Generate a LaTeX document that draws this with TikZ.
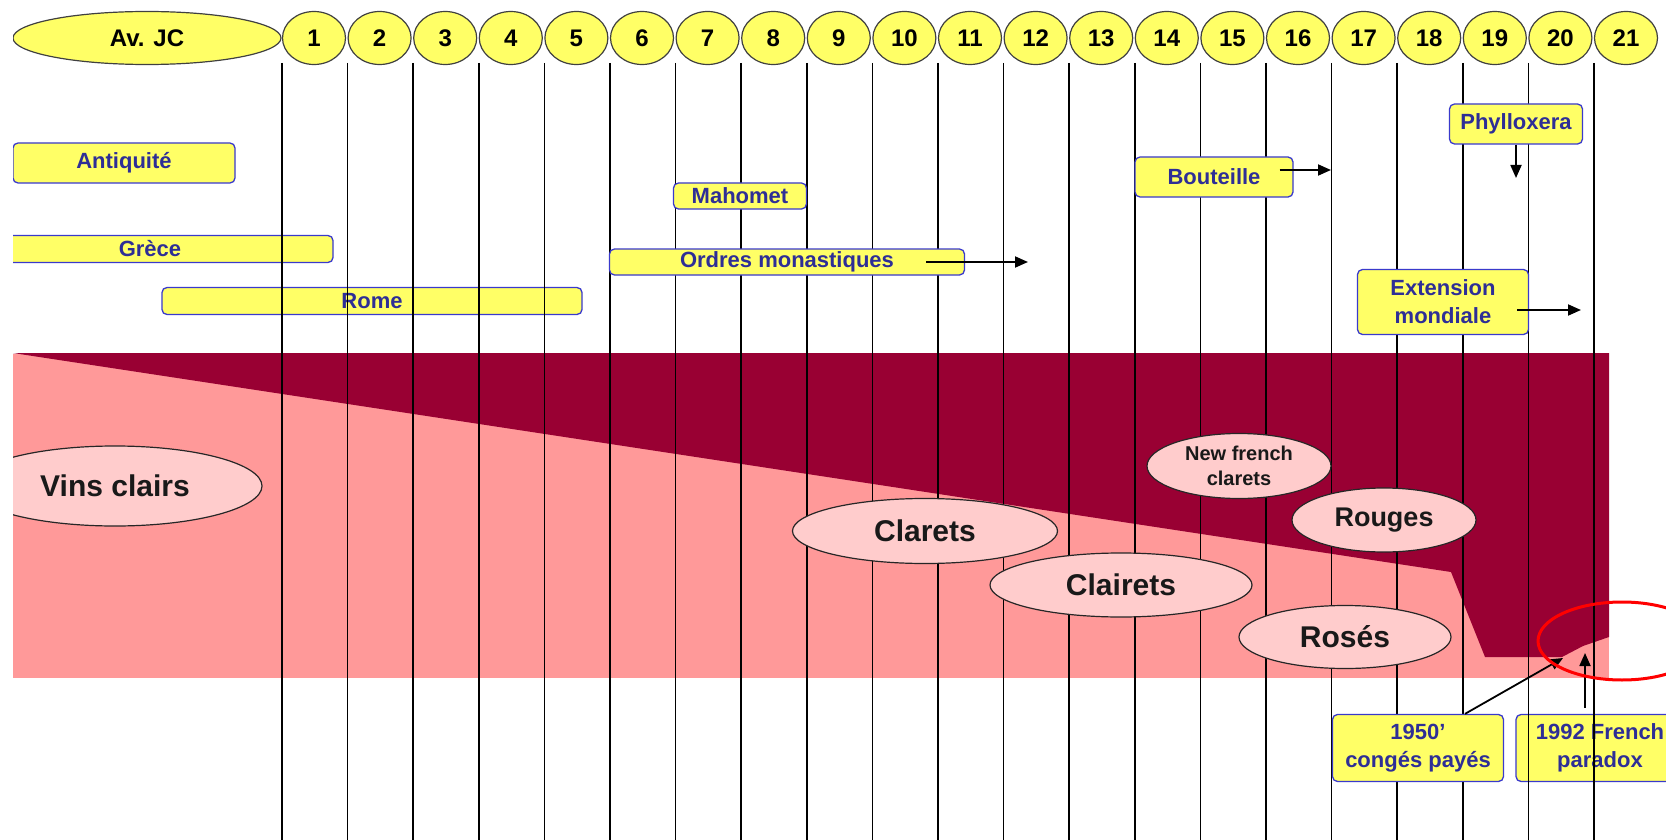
\documentclass[tikz,border=0pt]{standalone}
\usepackage{fontspec}
\setmainfont{Liberation Sans}
\usetikzlibrary{arrows.meta,calc,shapes.geometric}

\definecolor{jaune}{HTML}{FFFF66}
\definecolor{bleutexte}{HTML}{2E2E96}
\definecolor{bleubord}{HTML}{3A3ACC}
\definecolor{rose}{HTML}{FF9999}
\definecolor{bordeaux}{HTML}{990033}
\definecolor{roseclair}{HTML}{FFCCCC}

\begin{document}
\begin{tikzpicture}[
        x=1pt, y=-1pt,
        siecle/.style={ellipse, draw=black!75, fill=jaune, line width=1.2pt,
            inner sep=0pt, minimum width=63pt, minimum height=53pt,
            font=\fontsize{24}{24}\selectfont\bfseries},
        evenement/.style={rectangle, rounded corners=5pt, draw=bleubord,
            fill=jaune, line width=1.3pt, inner sep=0pt, text=bleutexte,
            align=center, font=\fontsize{22}{28}\selectfont\bfseries},
        vin/.style={ellipse, draw=black!85, fill=roseclair, line width=1.2pt,
            inner sep=0pt, text=black!90, align=center,
            font=\fontsize{30}{30}\selectfont\bfseries},
        trait/.style={black, line width=1.5pt},
        fleche/.style={-{Triangle[length=13pt,width=11pt]}, line width=1.8pt},
    ]
    \fill[white] (0,0) rectangle (1666,840);
    \begin{scope}
    \clip (13,0) rectangle (1666,840);

    % fond : vins clairs / vins rouges
    \fill[rose] (13,354) rectangle (1609,678);
    \fill[bordeaux] (13,353) -- (1609,353) -- (1609,637) -- (1583,646)
        -- (1562,657) -- (1485,657) -- (1451,572) -- cycle;

    % periodes sous les traits
    \node[evenement, minimum width=366pt, minimum height=27pt] (grece)
        at (150,249) {Grèce};
    \node[evenement, minimum width=420pt, minimum height=27pt] (rome)
        at (372,301) {Rome};
    \node[evenement, minimum width=168pt, minimum height=67pt] (paradoxe)
        at (1600,748) {1992 French\\paradox};

    % traits des siecles
    \foreach \l in {1,...,21} {
        \coordinate (h\l) at ({282+(\l-1)*65.6},63);
        \coordinate (b\l) at ({282+(\l-1)*65.6},840);
        \draw[trait] (h\l) -- (b\l);
    }

    % siecles
    \node[siecle, minimum width=268pt] (avjc) at (147,38) {Av. JC};
    \foreach \s in {1,...,21}
        \node[siecle] (s\s) at ({314+(\s-1)*65.6},38) {\s};

    % evenements
    \node[evenement, minimum width=222pt, minimum height=40pt] (antiquite)
        at (124,163) {Antiquité};
    \node[evenement, minimum width=133pt, minimum height=26pt] (mahomet)
        at (740,196) {Mahomet};
    \node[evenement, minimum width=355pt, minimum height=26pt] (ordres)
        at (787,262) {Ordres monastiques};
    \node[evenement, minimum width=158pt, minimum height=40pt] (bouteille)
        at (1214,177) {Bouteille};
    \node[evenement, minimum width=133pt, minimum height=40pt] (phylloxera)
        at (1516,124) {Phylloxera};
    \node[evenement, minimum width=171pt, minimum height=65pt] (extension)
        at (1443,302) {Extension\\mondiale};
    \node[evenement, minimum width=171pt, minimum height=67pt] (conges)
        at (1418,748) {1950'\\congés payés};

    % vins
    \begin{scope}
        \clip (13,354) rectangle (1609,678);
        \node[vin, minimum width=294pt, minimum height=80pt] (vinsclairs)
            at (115,486) {Vins clairs};
    \end{scope}
    \node[vin, minimum width=265pt, minimum height=65pt] (clarets)
        at (925,531) {Clarets};
    \node[vin, minimum width=262pt, minimum height=64pt] (clairets)
        at (1121,585) {Clairets};
    \node[vin, minimum width=184pt, minimum height=65pt,
        font=\fontsize{20}{25}\selectfont\bfseries] (newfrench)
        at (1239,466) {New french\\clarets};
    \node[vin, minimum width=184pt, minimum height=64pt,
        font=\fontsize{27}{27}\selectfont\bfseries] (rouges)
        at (1384,520) {Rouges};
    \node[vin, minimum width=212pt, minimum height=63pt] (roses)
        at (1345,637) {Rosés};

    % fleches
    \coordinate (ordres-fin) at (1028,262);
    \coordinate (bouteille-fin) at (1331,170);
    \coordinate (phyllo-fin) at (1516,178);
    \coordinate (extension-fin) at (1581,310);
    \coordinate (creux) at (1563,658);
    \coordinate (pointe) at (1585,653);
    \draw[fleche] ([xshift=-39pt]ordres.east) -- (ordres-fin);
    \draw[fleche] ([xshift=-14pt,yshift=7pt]bouteille.east) -- (bouteille-fin);
    \draw[fleche] (phylloxera.south) -- (phyllo-fin);
    \draw[fleche] ([xshift=-12pt,yshift=-8pt]extension.east) -- (extension-fin);
    \draw[fleche] ([xshift=47pt]conges.north) -- (creux);
    \draw[fleche] ($(paradoxe.north -| pointe)+(0,-6)$) -- (pointe);

    % french paradox
    \node[ellipse, draw=red, line width=3pt, minimum width=168pt,
        minimum height=78pt] (cercle) at (1622,641) {};
    \end{scope}
\end{tikzpicture}
\end{document}
